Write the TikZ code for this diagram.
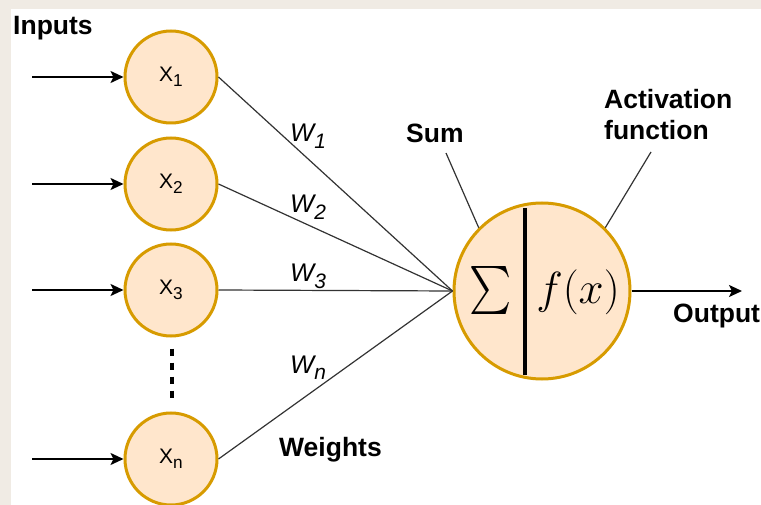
\RequirePackage{fix-cm}
\documentclass[tikz,border=0pt]{standalone}
\usepackage{fontspec}
\setmainfont{Liberation Sans}
\setsansfont{Liberation Sans}
\usepackage{graphicx}
\usepackage{tikz}
\usetikzlibrary{positioning,calc,arrows.meta}
\definecolor{peach}{HTML}{FFE6CC}
\definecolor{amber}{HTML}{D79B00}
\definecolor{paper}{RGB}{240,235,228}
\newcommand\lowidx[1]{\raisebox{-0.24em}{\scalebox{0.82}{#1}}}

\begin{document}
\begin{tikzpicture}[
  x=1pt, y=-1pt,
  font=\fontsize{21}{24}\selectfont,
  inp/.style={circle, draw=amber, fill=peach, line width=3pt, minimum size=92pt, inner sep=0pt},
  neuron/.style={circle, draw=amber, fill=peach, line width=3pt, minimum size=176pt, inner sep=0pt},
  lbl/.style={font=\fontsize{26.5}{31}\selectfont\bfseries, inner sep=0pt, anchor=base west},
  wlbl/.style={font=\fontsize{25.5}{28}\selectfont\itshape, inner sep=0pt, anchor=base west},
  arr/.style={-{Stealth[length=13pt,width=12pt,inset=3pt]}, line width=2pt},
  wire/.style={line width=1.2pt, black!80},
]
\fill[paper] (0,0) rectangle (761,505);
\fill[white] (11,9) rectangle (761,505);
\useasboundingbox (0,0) rectangle (761,505);
% inputs
\node[inp] (x1) at (171,77) {X\lowidx{1}};
\node[inp] (x2) at (171,184) {X\lowidx{2}};
\node[inp] (x3) at (171,290) {X\lowidx{3}};
\node[inp] (xn) at (171,459) {X\lowidx{n}};
\coordinate (a1) at (32,77); \coordinate (a2) at (32,184);
\coordinate (a3) at (32,290); \coordinate (an) at (32,459);
\draw[arr] (a1) -- (x1); \draw[arr] (a2) -- (x2);
\draw[arr] (a3) -- (x3); \draw[arr] (an) -- (xn);
\draw[line width=3.2pt, dash pattern=on 7pt off 7pt] ($(x3.south)+(1,11)$) -- ($(xn.north)+(1,-9)$);
% neuron
\node[neuron] (sum) at (542,291) {};
\node (sig) at (491,291) {\scalebox{4.0}[4.8]{$\sum$}};
\node (act) at (578,292) {\fontsize{45}{45}\selectfont$f(x)$};
\draw[line width=3.5pt] ($(sum)+(-17,-83)$) -- ($(sum)+(-17,84)$);
\draw[wire] (x1.east) -- (sum.west); \draw[wire] (x2.east) -- (sum.west);
\draw[wire] (x3.east) -- (sum.west); \draw[wire] (xn.east) -- (sum.west);
\coordinate (o) at (742,291);
\draw[arr] (sum.east) -- (o);
% labels
\node[lbl] (inlbl) at (13,35) {Inputs};
\node[lbl] (wts) at (279,456) {Weights};
\node[lbl] (outlbl) at (673,323) {Output};
\node[lbl] (sumlbl) at (406,143) {Sum};
\node[lbl, align=left, anchor=north west] (actlbl) at (604,89) {Activation\\function};
\node[wlbl] (w1) at (290,142) {W\lowidx{1}};
\node[wlbl] (w2) at (290,213) {W\lowidx{2}};
\node[wlbl] (w3) at (290,282) {W\lowidx{3}};
\node[wlbl] (wn) at (290,373) {W\lowidx{n}};
\coordinate (sp) at (446,153); \coordinate (ap) at (651,152);
\draw[wire] (sp) -- (sum.135); \draw[wire] (ap) -- (sum.45);
\end{tikzpicture}
\end{document}
